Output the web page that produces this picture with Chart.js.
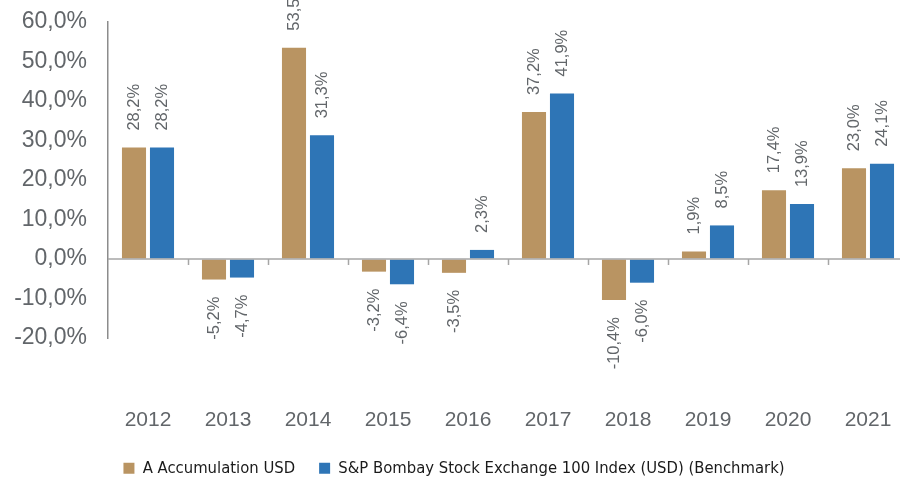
<!DOCTYPE html>
<html>
<head>
<meta charset="utf-8">
<script src="https://cdn.jsdelivr.net/npm/chart.js@4"></script>
<style>
  html, body { margin: 0; padding: 0; background: #fff; overflow: hidden; }
  #wrap { width: 908px; height: 477px; }
</style>
</head>
<body>
<div id="wrap"><canvas id="returnsChart" width="908" height="477"></canvas></div>
<script>
var years = ["2012", "2013", "2014", "2015", "2016", "2017", "2018", "2019", "2020", "2021"];
var fundReturns = [28.2, -5.2, 53.5, -3.2, -3.5, 37.2, -10.4, 1.9, 17.4, 23.0];
var benchReturns = [28.2, -4.7, 31.3, -6.4, 2.3, 41.9, -6.0, 8.5, 13.9, 24.1];
var seriesNames = ["A Accumulation USD", "S&P Bombay Stock Exchange 100 Index (USD) (Benchmark)"];

var textGrey = '#62666a';

function pct(v) {
  return v.toFixed(1).replace('.', ',') + '%';
}

// zero line with small ticks between the year groups
var zeroLine = {
  id: 'zeroLine',
  afterDatasetsDraw: function (chart) {
    var ctx = chart.ctx, x = chart.scales.x, y = chart.scales.y;
    var y0 = y.getPixelForValue(0);
    var step = x.width / years.length;
    ctx.save();
    ctx.strokeStyle = '#a6a6a6';
    ctx.lineWidth = 1.5;
    ctx.beginPath();
    ctx.moveTo(x.left, y0);
    ctx.lineTo(x.right, y0);
    for (var i = 1; i < years.length; i++) {
      var px = Math.round(x.getPixelForValue(i) - step / 2) + 0.5;
      ctx.moveTo(px, y0);
      ctx.lineTo(px, y0 + 6);
    }
    ctx.stroke();
    ctx.restore();
  }
};

// rotated value labels above / below each bar
var barLabels = {
  id: 'barLabels',
  afterDatasetsDraw: function (chart) {
    var ctx = chart.ctx;
    ctx.save();
    ctx.font = '16.5px "Liberation Sans", Arial, sans-serif';
    ctx.fillStyle = textGrey;
    chart.data.datasets.forEach(function (ds, di) {
      chart.getDatasetMeta(di).data.forEach(function (bar, i) {
        var v = ds.data[i];
        ctx.save();
        ctx.translate(bar.x, bar.y);
        ctx.rotate(-Math.PI / 2);
        ctx.textBaseline = 'middle';
        if (v >= 0) {
          ctx.textAlign = 'left';
          ctx.fillText(pct(v), 17, 0);
        } else {
          ctx.textAlign = 'right';
          ctx.fillText(pct(v), -17, 0);
        }
        ctx.restore();
      });
    });
    ctx.restore();
  }
};

var returnsChart = new Chart("returnsChart", {
  type: 'bar',
  data: {
    labels: years,
    datasets: [{
      label: seriesNames[0],
      data: fundReturns,
      backgroundColor: '#b99462',
      categoryPercentage: 0.7,
      barPercentage: 0.86
    }, {
      label: seriesNames[1],
      data: benchReturns,
      backgroundColor: '#2e75b6',
      categoryPercentage: 0.7,
      barPercentage: 0.86
    }]
  },
  options: {
    responsive: false,
    animation: false,
    layout: { padding: { top: 22, right: 0, left: 0, bottom: 0 } },
    plugins: {
      tooltip: { enabled: false },
      legend: {
        position: 'bottom',
        maxHeight: 41,
        labels: {
          boxWidth: 11,
          boxHeight: 11,
          padding: 24,
          color: '#1a1a1a',
          font: { family: '"Liberation Sans Narrow", "DejaVu Sans Condensed", sans-serif', size: 16.5 }
        }
      }
    },
    scales: {
      x: {
        afterFit: function (s) { s.height = 98; },
        grid: { display: true, drawOnChartArea: false, drawTicks: true, tickLength: 68, tickColor: 'transparent' },
        border: { display: false },
        ticks: {
          color: textGrey,
          padding: 2,
          font: { family: '"Liberation Sans", Arial, sans-serif', size: 21 }
        }
      },
      y: {
        min: -20,
        max: 60,
        afterFit: function (s) { s.width = 108; },
        grid: { display: true, drawOnChartArea: false, drawTicks: true, tickLength: 19, tickColor: 'transparent' },
        border: { display: true, color: '#8c8c8c', width: 1.5 },
        ticks: {
          stepSize: 10,
          autoSkip: false,
          padding: 2,
          color: textGrey,
          font: { family: '"Liberation Sans", Arial, sans-serif', size: 23 },
          callback: function (v) { return pct(v); }
        }
      }
    }
  },
  plugins: [zeroLine, barLabels]
});
</script>
</body>
</html>
